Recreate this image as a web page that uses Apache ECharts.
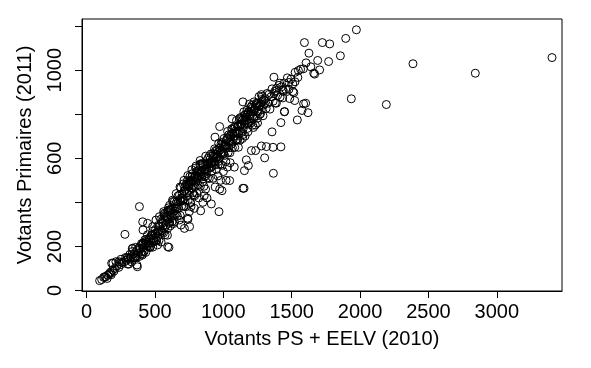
<!DOCTYPE html>
<html>
<head>
<meta charset="utf-8">
<script src="https://cdn.jsdelivr.net/npm/echarts@6/dist/echarts.min.js"></script>
<style>html,body{margin:0;padding:0;background:#fff}#c{width:591px;height:368px}</style>
</head>
<body>
<div id="c"></div>
<script>
const xTicks = [0, 500, 1000, 1500, 2000, 2500, 3000];
const yTicks = [0, 200, 400, 600, 800, 1000, 1200];
const yLabels = [0, 200, 600, 1000];
const xTitle = "Votants PS + EELV (2010)";
const yTitle = "Votants Primaires (2011)";

// [Votants PS + EELV (2010), Votants Primaires (2011)]
const points = [
[1973,1183],[1895,1144],[1856,1065],[1778,1119],[1724,1125],[1593,1125],[1626,1077],[1690,1044],[1770,1039],[1704,1001],
[1661,986],[1668,982],[1549,998],[2387,1029],[2843,986],[3404,1057],[1936,870],[2192,844],[1602,850],[1587,847],
[1619,807],[1575,817],[1541,774],[1370,968],[1412,941],[1480,944],[1524,947],[1388,907],[1439,903],[1278,889],
[1485,871],[1516,898],[1421,762],[1446,811],[1143,856],[1356,720],[1063,779],[973,744],[939,696],[1421,652],
[1363,650],[1315,653],[1278,656],[1236,635],[1205,635],[1302,602],[1366,532],[1168,593],[1183,567],[1154,544],
[1143,464],[1151,464],[990,453],[973,460],[1046,499],[968,358],[912,393],[834,362],[753,290],[741,323],
[386,381],[280,255],[602,196],[371,108],[334,190],[95,45],[132,63],[176,78],[192,124],[236,131],
[315,142],[353,151],[407,161],[412,275],[563,358],[607,387],
[124,60],[154,70],[173,83],[190,93],[183,124],[214,131],[239,124],[251,142],[295,149],[324,153],
[361,157],[368,116],[336,192],[385,194],[410,214],[434,222],[459,237],[495,229],[519,207],[593,199],
[410,312],[446,305],[483,290],[507,320],[532,335],[568,351],[593,358],[617,366],[642,312],[678,320],
[690,297],[739,328],[751,358],[763,381],[788,373],[593,282],[715,282],
[1375,903],[1436,911],[1509,903],[1388,850],[1448,812],[1522,862],
[110,50],[140,62],[150,55],[165,75],[180,72],[200,88],[205,100],[220,110],[235,105],[250,118],
[260,128],[275,130],[290,138],[300,120],[285,150],
[303,147],[309,120],[316,164],[322,149],[329,130],[334,177],[341,149],[347,167],[353,148],[358,196],
[364,150],[369,184],[375,170],[381,193],[386,155],[392,188],[397,174],[401,213],[406,167],[412,214],
[417,194],[421,178],[427,214],[432,173],[437,233],[443,202],[448,217],[453,199],[458,234],[464,195],
[469,233],[473,217],[479,254],[484,197],[489,239],[494,221],[499,256],[504,277],[510,229],[515,264],
[519,244],
[523,271],[529,227],[532,293],[538,268],[545,220],[547,311],[553,265],[560,295],[562,261],[567,339],
[574,253],[578,320],[581,297],[588,336],[591,251],[596,323],[603,305],[605,367],[611,293],[617,369],
[620,336],[626,313],[630,370],[636,304],[641,403],[644,350],[650,375],[655,347],[659,403],[664,338],
[670,401],[673,373],[679,434],[684,341],[688,409],[695,383],[699,439],
[702,410],[707,484],[711,383],[716,451],[719,406],[725,380],[729,484],[733,444],[738,483],[742,408],
[746,472],[751,445],[755,518],[759,398],[764,500],[768,464],[771,516],[776,444],[780,496],[785,435],
[789,517],[793,471],[797,556],[802,496],[806,442],[810,543],[815,480],[819,534],[823,518],[828,570],
[832,473],[836,539],[841,515],[845,576],[849,493],[854,568],[858,473],[862,551],[867,517],[871,610],
[875,531],[880,571],[884,511],[888,600],[893,558],[897,508],
[880,420],[860,430],[820,420],[850,400],[870,460],[790,430],[760,400],
[901,594],[905,556],[910,620],[914,541],[918,585],[923,509],[927,621],[931,581],[936,643],[940,571],
[944,619],[949,549],[953,635],[957,606],[962,572],[966,668],[970,599],[975,637],[979,573],[983,665],
[988,624],[992,568],[996,665],[1001,622],[1005,690],[1009,613],[1014,658],[1018,585],[1022,682],[1027,651],
[1031,722],[1035,627],[1040,707],[1044,678],[1048,625],[1053,706],[1057,664],[1061,734],[1066,648],[1070,710],
[1074,688],[1079,741],[1083,649],[1087,741],[1092,681],[1096,772],[1100,718],
[960,520],[1000,540],[1050,580],[1080,560],[1020,500],[940,470],[980,500],[1030,560],
[1104,683],[1109,745],[1113,711],[1118,780],[1122,682],[1127,755],[1131,780],[1136,718],[1141,775],[1145,708],
[1150,811],[1154,756],[1159,701],[1163,799],[1168,773],[1173,819],[1177,736],[1182,807],[1186,760],[1191,846],
[1195,779],[1200,760],[1205,814],[1209,840],[1214,750],[1219,813],[1224,856],[1229,789],[1234,751],[1239,849],
[1244,813],[1250,782],[1255,850],[1261,880],[1266,800],[1272,842],[1278,819],[1284,881],[1290,793],[1295,864],
[1300,846],
[1140,690],[1180,720],[1220,740],[1110,650],[1250,760],
[1306,871],[1313,826],[1319,894],[1327,850],[1334,890],[1341,823],[1349,880],[1356,915],[1364,859],[1372,894],
[1380,851],[1389,918],[1397,886],[1406,931],[1415,878],[1425,924],[1434,874],[1445,942],[1456,913],[1468,965],
[1480,913],[1494,959],[1508,937],[1525,990],[1545,967],[1565,1004],[1585,1006],[1605,1033],[1640,1015],
[712,452],[734,478],[748,480],[762,492],[777,498],[791,510],[808,515],[826,540],[843,540],[861,549],
[878,552],[895,580],[912,582],[929,604],[946,600],[963,628],[981,626],[998,655],[1016,660],[1033,690],
[1051,686],[1068,714],[1086,716],[1103,745],[1121,746],[1138,772],[1156,772],[1174,798],[1192,800],[1210,826],
[1228,822],[1246,842],[1264,840],[1282,858],
[405,206],[414,176],[426,230],[433,211],[445,253],[452,211],[466,202],[471,250],[484,270],[490,229],
[503,260],[511,226],[522,295],[528,268],[541,323],[549,270],[557,307],[569,282],[575,334],[588,328],
[596,364],[607,311],[613,363],[624,351],[631,404],[643,361],[652,393],[660,371],[668,429],[681,414],
[689,466],[697,420],[706,411],[718,470],[724,459],[737,499],[745,454],[753,496],[766,485],[772,530],
[784,478],[793,519],[801,539],[813,509],[819,526],[832,575],[840,530],[851,575],[858,518],[870,573],
[877,543],[889,575],[898,611],[906,576],[917,563],[925,612],[936,587],[945,636],[954,613],[964,586],
[972,646],[983,622],[991,673],[1002,622],[1010,661],[1021,657],[1029,693],[1041,648],[1048,699],[1059,674],
[1068,731],[1078,700],[1087,723],[1097,687],[1106,748],[1117,724],[1124,785],[1136,757],[1145,734],[1155,796],
[1163,785],[1174,758],[1183,810],[1193,794],[1202,832],[1213,792],[1221,779],[1232,830],[1241,848],[1252,809],
[1260,836],[1271,801],[1281,867],[1292,841],
[565,345],[598,375],[628,410],[655,440],[683,470],[712,500],[740,522],[770,548],[800,565],[830,590]
];

const font = "'Liberation Sans', Arial, Helvetica, sans-serif";
const plain = v => String(v);
const chart = echarts.init(document.getElementById('c'), null, {renderer: 'canvas'});
chart.setOption({
  animation: false,
  backgroundColor: '#fff',
  grid: {left: 82, right: 29, top: 19, bottom: 77, show: true, borderColor: '#000', borderWidth: 1, containLabel: false},
  xAxis: {
    type: 'value', min: -34, max: 3477,
    name: xTitle, nameLocation: 'middle', nameGap: 38,
    nameTextStyle: {fontFamily: font, fontSize: 20, color: '#000'},
    axisLine: {show: true, onZero: false, lineStyle: {color: '#000', width: 1}},
    axisTick: {show: true, inside: false, length: 7, customValues: xTicks, lineStyle: {color: '#000'}},
    axisLabel: {show: true, customValues: xTicks, formatter: plain, margin: 11, fontFamily: font, fontSize: 20, color: '#000'},
    splitLine: {show: false}
  },
  yAxis: {
    type: 'value', min: -2, max: 1232,
    name: yTitle, nameLocation: 'middle', nameGap: 47, nameRotate: 90,
    nameTextStyle: {fontFamily: font, fontSize: 20, color: '#000'},
    axisLine: {show: true, onZero: false, lineStyle: {color: '#000', width: 1}},
    axisTick: {show: true, inside: false, length: 7, customValues: yTicks, lineStyle: {color: '#000'}},
    axisLabel: {show: true, customValues: yLabels, formatter: plain, rotate: 90, margin: 17, fontFamily: font, fontSize: 20, color: '#000'},
    splitLine: {show: false}
  },
  series: [{
    type: 'scatter',
    data: points,
    symbol: 'circle',
    symbolSize: 8,
    itemStyle: {color: 'rgba(0,0,0,0)', borderColor: '#000', borderWidth: 1, opacity: 1},
    emphasis: {disabled: true},
    silent: true
  }]
});
</script>
</body>
</html>
